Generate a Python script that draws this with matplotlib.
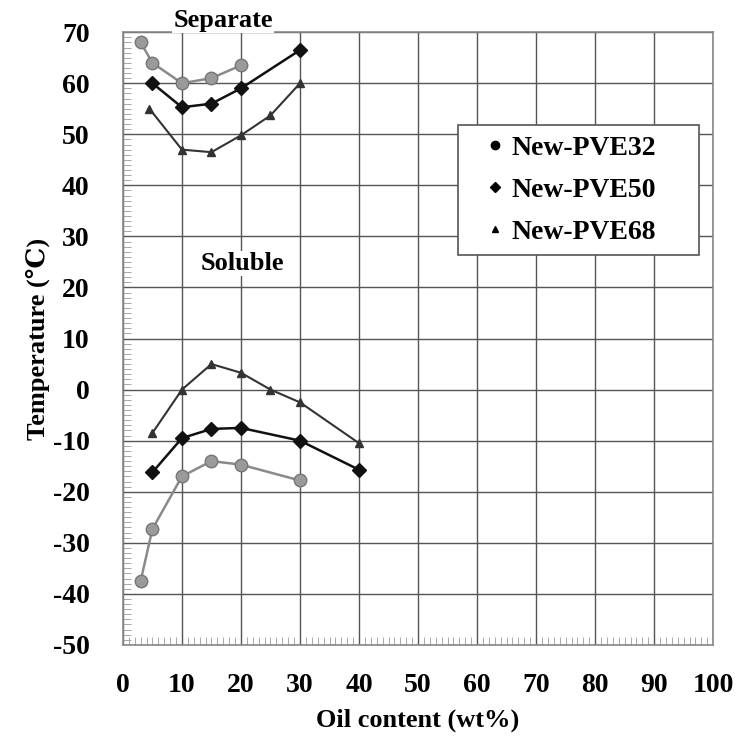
import numpy as np
import matplotlib
matplotlib.use("Agg")
import matplotlib.pyplot as plt
from matplotlib.ticker import MultipleLocator
from matplotlib.patches import Rectangle

plt.rcParams['font.family'] = ['Liberation Serif', 'DejaVu Serif', 'Noto Sans CJK SC']
plt.rcParams['font.weight'] = 'bold'
plt.rcParams['axes.unicode_minus'] = False

# separate (upper) curves
sep32_x = [3, 5, 10, 15, 20]
sep32_y = [68, 64, 60, 61, 63.5]
sep50_x = [5, 10, 15, 20, 30]
sep50_y = [60, 55.3, 56, 59, 66.5]
sep68_x = [4.5, 10, 15, 20, 25, 30]
sep68_y = [55, 47, 46.5, 49.8, 53.7, 60]

# soluble (lower) curves
sol32_x = [3, 5, 10, 15, 20, 30]
sol32_y = [-37.5, -27.3, -17, -14, -14.7, -17.8]
sol50_x = [5, 10, 15, 20, 30, 40]
sol50_y = [-16.2, -9.5, -7.7, -7.5, -10, -15.7]
sol68_x = [5, 10, 15, 20, 25, 30, 40]
sol68_y = [-8.5, 0, 5, 3.3, 0, -2.5, -10.5]

labels = ['New-PVE32', 'New-PVE50', 'New-PVE68']

fig = plt.figure(figsize=(7.36, 7.49), dpi=100)
ax = fig.add_axes([0.167, 0.139, 0.802, 0.818])

c32, c50, c68 = '#8a8a8a', '#111111', '#333333'

ax.plot(sep32_x, sep32_y, color=c32, lw=1.8, marker='o', ms=9, mfc='#9a9a9a', mec='#777777', zorder=3)
ax.plot(sol32_x, sol32_y, color=c32, lw=1.8, marker='o', ms=9, mfc='#9a9a9a', mec='#777777', zorder=3)
ax.plot(sep50_x, sep50_y, color=c50, lw=1.8, marker='D', ms=7, zorder=3)
ax.plot(sol50_x, sol50_y, color=c50, lw=1.8, marker='D', ms=7, zorder=3)
ax.plot(sep68_x, sep68_y, color=c68, lw=1.5, marker='^', ms=6, zorder=3)
ax.plot(sol68_x, sol68_y, color=c68, lw=1.5, marker='^', ms=6, zorder=3)

ax.set_xlim(0, 100)
ax.set_ylim(-50, 70)
ax.xaxis.set_major_locator(MultipleLocator(10))
ax.yaxis.set_major_locator(MultipleLocator(10))
ax.xaxis.set_minor_locator(MultipleLocator(1))
ax.yaxis.set_minor_locator(MultipleLocator(1))
ax.grid(True, which='major', color='#555555', lw=1.0)
ax.tick_params(which='major', length=0, labelsize=20)
ax.tick_params(axis='x', which='major', pad=20)
ax.tick_params(axis='y', which='major', pad=24)
ax.tick_params(which='minor', length=6, color='#999999', direction='in')
for s in ax.spines.values():
    s.set_color('#888888')
    s.set_linewidth(1.2)

for t in ax.get_xticklabels() + ax.get_yticklabels():
    t.set_fontweight('bold')

ax.set_xlabel('Oil content (wt%)', fontsize=19, fontweight='bold', labelpad=8)
ax.set_ylabel('Temperature (℃)', fontsize=19, fontweight='bold', labelpad=2)

ax.text(17, 72.3, 'Separate', fontsize=19, fontweight='bold', ha='center', va='center',
        bbox=dict(facecolor='white', edgecolor='none', pad=1), zorder=5, clip_on=False)
ax.text(20.3, 24.7, 'Soluble', fontsize=19, fontweight='bold', ha='center', va='center',
        bbox=dict(facecolor='white', edgecolor='none', pad=1), zorder=5)

# legend box drawn separately so the padding matches
ax.add_patch(Rectangle((0.568, 0.636), 0.408, 0.212, transform=ax.transAxes,
                       facecolor='white', edgecolor='#555555', lw=1.2, zorder=6))
h1, = ax.plot([], [], ls='none', marker='o', color='k', ms=6)
h2, = ax.plot([], [], ls='none', marker='D', color='k', ms=5)
h3, = ax.plot([], [], ls='none', marker='^', color='k', ms=5)
leg = ax.legend([h1, h2, h3], labels, loc='center', bbox_to_anchor=(0.76, 0.742),
                prop={'size': 20, 'weight': 'bold'}, frameon=False,
                handlelength=0.6, handletextpad=0.3, labelspacing=0.6, borderpad=0.3)
leg.set_zorder(7)

fig.savefig('out.png', dpi=100)
